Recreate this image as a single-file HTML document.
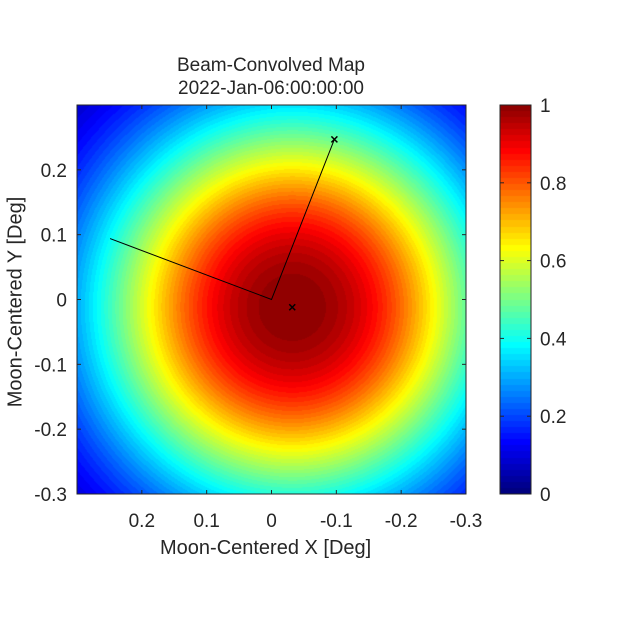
<!DOCTYPE html>
<html><head><meta charset="utf-8"><style>
html,body{margin:0;padding:0;background:#fff;}
#wrap{position:relative;width:625px;height:625px;font-family:"Liberation Sans",sans-serif;color:#262626;}
canvas{position:absolute;}
.t{position:absolute;font-size:20px;white-space:nowrap;}
</style></head><body>
<div id="wrap">
<canvas id="map" width="389" height="389" style="left:77px;top:105px"></canvas>
<canvas id="cbar" width="31" height="389" style="left:500px;top:105px"></canvas>
<svg id="ov" width="625" height="625" style="position:absolute;left:0;top:0"></svg>
<div class="t" style="left:0;width:542px;text-align:center;top:54px;line-height:23px;font-size:19px">Beam-Convolved Map<br>2022-Jan-06:00:00:00</div>
<div class="t" style="left:160px;top:537px">Moon-Centered X [Deg]</div>
<div class="t" style="left:16px;top:302px;transform:translate(-50%,-50%) rotate(-90deg);transform-origin:center">Moon-Centered Y [Deg]</div>
</div>
<script>
// data
const xTicks=[0.2,0.1,0,-0.1,-0.2,-0.3];
const yTicks=[0.2,0.1,0,-0.1,-0.2,-0.3];
const cTicks=[0,0.2,0.4,0.6,0.8,1];
const beamCenter=[-0.032,-0.012];
const beamWidth=[0.307];
const beamShape=[2.3];
const markersX=[-0.032,-0.097];
const markersY=[-0.012,0.247];
const lineX=[0.249,0,-0.097];
const lineY=[0.094,0,0.247];
const nLevels=[60];

const L=77,T=105,W=389,H=389;
const xs=v=>L+(0.3-v)/0.6*W;
const ys=v=>T+(0.3-v)/0.6*H;
function jet(t){const c=x=>Math.max(0,Math.min(1,x));return [c(1.5-Math.abs(4*t-3)),c(1.5-Math.abs(4*t-2)),c(1.5-Math.abs(4*t-1))].map(v=>Math.round(v*255));}
const mc=document.getElementById('map').getContext('2d');
const img=mc.createImageData(W,H);
for(let j=0;j<H;j++)for(let i=0;i<W;i++){
 const x=0.3-(i+0.5)/W*0.6,y=0.3-(j+0.5)/H*0.6;
 const r=Math.sqrt((x-beamCenter[0])**2+(y-beamCenter[1])**2);
 let v=Math.exp(-Math.pow(r/beamWidth[0],beamShape[0]));
 v=Math.floor(v*nLevels[0])/nLevels[0];
 const c=jet(v);const k=(j*W+i)*4;img.data[k]=c[0];img.data[k+1]=c[1];img.data[k+2]=c[2];img.data[k+3]=255;}
mc.putImageData(img,0,0);
const cc=document.getElementById('cbar').getContext('2d');
for(let j=0;j<H;j++){const t=1-(j+0.5)/H;const c=jet(Math.floor(t*64)/64);cc.fillStyle=`rgb(${c})`;cc.fillRect(0,j,31,1);}
const ov=document.getElementById('ov');const NS='http://www.w3.org/2000/svg';
function el(tag,a){const e=document.createElementNS(NS,tag);for(const k in a)e.setAttribute(k,a[k]);ov.appendChild(e);return e;}
let e=el('rect',{x:L,y:T,width:W,height:H,fill:'none',stroke:'#262626','stroke-width':1});


e=el('rect',{x:500,y:T,width:31,height:H,fill:'none',stroke:'#262626','stroke-width':1});


xTicks.forEach(v=>{const x=xs(v);
 el('line',{x1:x,y1:T+H,x2:x,y2:T+H-4,stroke:'#262626'});el('line',{x1:x,y1:T,x2:x,y2:T+4,stroke:'#262626'});
 const t=el('text',{x:x,y:527,'text-anchor':'middle','font-size':19,fill:'#262626','font-family':'Liberation Sans'});t.textContent=v;
 
 });
yTicks.forEach(v=>{const y=ys(v);
 el('line',{x1:L,y1:y,x2:L+4,y2:y,stroke:'#262626'});el('line',{x1:L+W,y1:y,x2:L+W-4,y2:y,stroke:'#262626'});
 const t=el('text',{x:L-10,y:y+7,'text-anchor':'end','font-size':19,fill:'#262626','font-family':'Liberation Sans'});t.textContent=v;
 
 });
cTicks.forEach(v=>{const y=T+H-v*H;
 el('line',{x1:531,y1:y,x2:527,y2:y,stroke:'#262626'});el('line',{x1:500,y1:y,x2:504,y2:y,stroke:'#262626'});
 const t=el('text',{x:540,y:y+7,'font-size':19,fill:'#262626','font-family':'Liberation Sans'});t.textContent=v;
 
 });
const pl=el('polyline',{points:lineX.map((v,i)=>xs(v)+','+ys(lineY[i])).join(' '),fill:'none',stroke:'#000','stroke-width':1});


markersX.forEach((v,i)=>{const x=xs(v),y=ys(markersY[i]);
 const m=el('path',{d:`M${x-3},${y-3}L${x+3},${y+3}M${x-3},${y+3}L${x+3},${y-3}`,stroke:'#000','stroke-width':1.5});
 
 });
</script>
</body></html>
